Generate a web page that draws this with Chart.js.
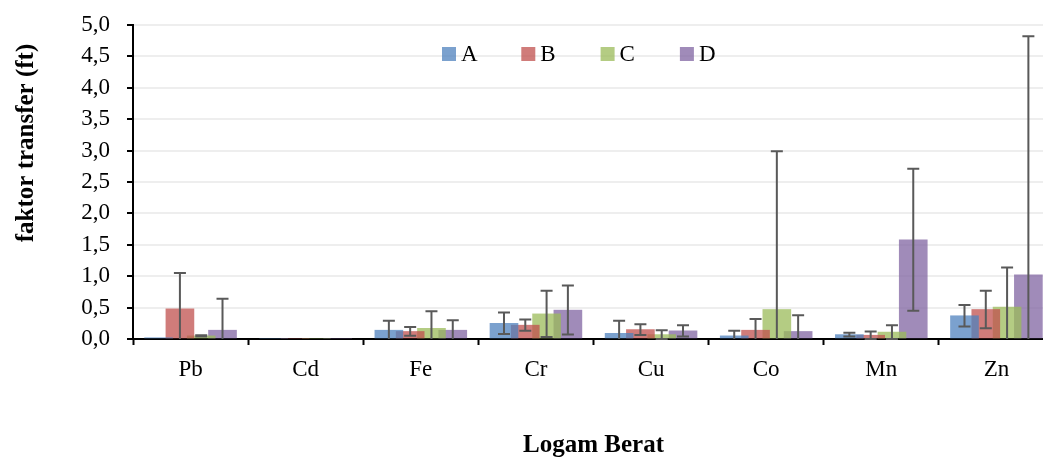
<!DOCTYPE html>
<html lang="id">
<head>
    <meta charset="UTF-8">
    <title>Faktor transfer logam berat</title>
    <script src="https://cdn.jsdelivr.net/npm/chart.js"></script>
    <style>
        html, body {
            margin: 0;
            padding: 0;
            background: #fff;
            overflow: hidden;
        }
        #chart {
            display: block;
        }
    </style>
</head>
<body>
    <canvas id="chart" width="1056" height="458"></canvas>

    <script>
        // categories (heavy metals)
        const metals = ['Pb', 'Cd', 'Fe', 'Cr', 'Cu', 'Co', 'Mn', 'Zn'];
        const seriesNames = ['A', 'B', 'C', 'D'];

        // transfer factor means
        const valuesA = [0.02, 0, 0.14, 0.25, 0.09, 0.05, 0.07, 0.37];
        const valuesB = [0.48, 0, 0.12, 0.22, 0.15, 0.14, 0.06, 0.47];
        const valuesC = [0.05, 0, 0.17, 0.40, 0.07, 0.47, 0.11, 0.51];
        const valuesD = [0.14, 0, 0.14, 0.46, 0.13, 0.12, 1.58, 1.02];

        // error bar half lengths (+/-)
        const errorsA = [0, 0, 0.15, 0.17, 0.20, 0.08, 0.03, 0.17];
        const errorsB = [0.57, 0, 0.07, 0.09, 0.085, 0.18, 0.06, 0.30];
        const errorsC = [0.01, 0, 0.27, 0.37, 0.07, 2.52, 0.11, 0.63];
        const errorsD = [0.50, 0, 0.16, 0.39, 0.09, 0.26, 1.13, 3.80];

        // y axis ticks
        const yMin = 0;
        const yMax = 5;
        const yStep = 0.5;

        const allValues = [valuesA, valuesB, valuesC, valuesD];
        const allErrors = [errorsA, errorsB, errorsC, errorsD];
        const colors = [
            'rgba(79, 129, 189, 0.75)',
            'rgba(192, 80, 77, 0.75)',
            'rgba(155, 187, 89, 0.75)',
            'rgba(128, 100, 162, 0.75)'
        ];
        // bars overlap each other inside a group (like the Excel original)
        const barShift = 0.185;
        const serif = "'Liberation Serif', 'DejaVu Serif', serif";
        const tickFont = { family: serif, size: 23 };
        const titleFont = { family: serif, size: 25, weight: 'bold' };

        const datasets = seriesNames.map((name, k) => ({
            label: name,
            data: allValues[k].map((v, i) => ({ x: i + (k - 1.5) * barShift, y: v })),
            backgroundColor: colors[k],
            borderWidth: 0,
            barThickness: 28,
            grouped: false,
            xAxisID: 'xl'
        }));

        // draws the +/- error bars, clipped to the plot area
        const errorBars = {
            id: 'errorBars',
            afterDatasetsDraw(chart) {
                const ctx = chart.ctx;
                const y = chart.scales.y;
                const area = chart.chartArea;
                ctx.save();
                ctx.strokeStyle = '#595959';
                ctx.lineWidth = 2;
                allErrors.forEach((errs, k) => {
                    const meta = chart.getDatasetMeta(k);
                    meta.data.forEach((bar, i) => {
                        const err = errs[i];
                        if (!err) return;
                        const v = allValues[k][i];
                        const top = y.getPixelForValue(v + err);
                        const rawBot = y.getPixelForValue(v - err);
                        const bot = Math.min(rawBot, area.bottom);
                        ctx.beginPath();
                        ctx.moveTo(bar.x, top);
                        ctx.lineTo(bar.x, bot);
                        ctx.moveTo(bar.x - 6, top);
                        ctx.lineTo(bar.x + 6, top);
                        if (rawBot <= area.bottom) {
                            ctx.moveTo(bar.x - 6, bot);
                            ctx.lineTo(bar.x + 6, bot);
                        }
                        ctx.stroke();
                    });
                });
                ctx.restore();
            }
        };

        // legend sits inside the plot area, in one row
        const innerLegend = {
            id: 'innerLegend',
            afterDraw(chart) {
                const ctx = chart.ctx;
                const area = chart.chartArea;
                const startX = area.left + 309;
                const stride = 79.3;
                const boxTop = area.top + 22;
                ctx.save();
                ctx.font = tickFont.size + 'px ' + serif;
                ctx.textBaseline = 'alphabetic';
                ctx.textAlign = 'left';
                seriesNames.forEach((name, k) => {
                    const x = startX + k * stride;
                    ctx.fillStyle = colors[k];
                    ctx.fillRect(x, boxTop, 14, 14);
                    ctx.fillStyle = '#000';
                    ctx.fillText(name, x + 19, boxTop + 14);
                });
                ctx.restore();
            }
        };

        new Chart(document.getElementById('chart'), {
            type: 'bar',
            data: {
                labels: metals,
                datasets: datasets
            },
            plugins: [errorBars, innerLegend],
            options: {
                responsive: false,
                animation: false,
                layout: {
                    padding: { left: 0, right: 2, top: 25, bottom: 0 }
                },
                plugins: {
                    legend: { display: false },
                    tooltip: { enabled: false }
                },
                scales: {
                    xl: {
                        type: 'linear',
                        display: false,
                        offset: false,
                        min: -0.5,
                        max: metals.length - 0.5
                    },
                    x: {
                        type: 'category',
                        position: 'bottom',
                        offset: true,
                        grid: {
                            offset: true,
                            drawOnChartArea: false,
                            tickLength: 6,
                            tickColor: '#000',
                            tickWidth: 2
                        },
                        border: { color: '#000', width: 2 },
                        ticks: {
                            color: '#000',
                            padding: 11,
                            font: tickFont
                        },
                        title: {
                            display: true,
                            text: 'Logam Berat',
                            color: '#000',
                            padding: { top: 0, bottom: 0 },
                            font: Object.assign({}, titleFont, { lineHeight: 1 })
                        },
                        afterFit(scale) {
                            scale.height = 119;
                        }
                    },
                    y: {
                        min: yMin,
                        max: yMax,
                        ticks: {
                            stepSize: yStep,
                            color: '#000',
                            padding: 17,
                            font: tickFont,
                            callback: v => v.toFixed(1).replace('.', ',')
                        },
                        grid: {
                            color: '#eeeeee',
                            lineWidth: 2,
                            tickLength: 6,
                            tickColor: '#000',
                            tickWidth: 2
                        },
                        border: { color: '#000', width: 2 },
                        title: {
                            display: true,
                            align: 'end',
                            text: 'faktor transfer (ft)\u00a0\u00a0\u00a0',
                            color: '#000',
                            padding: { top: 12, bottom: 0 },
                            font: titleFont
                        },
                        afterFit(scale) {
                            scale.width = 133;
                            // let the layout padding decide the top edge
                            scale.paddingTop = 0;
                            scale.paddingBottom = 0;
                        }
                    }
                }
            }
        });
    </script>
</body>
</html>
